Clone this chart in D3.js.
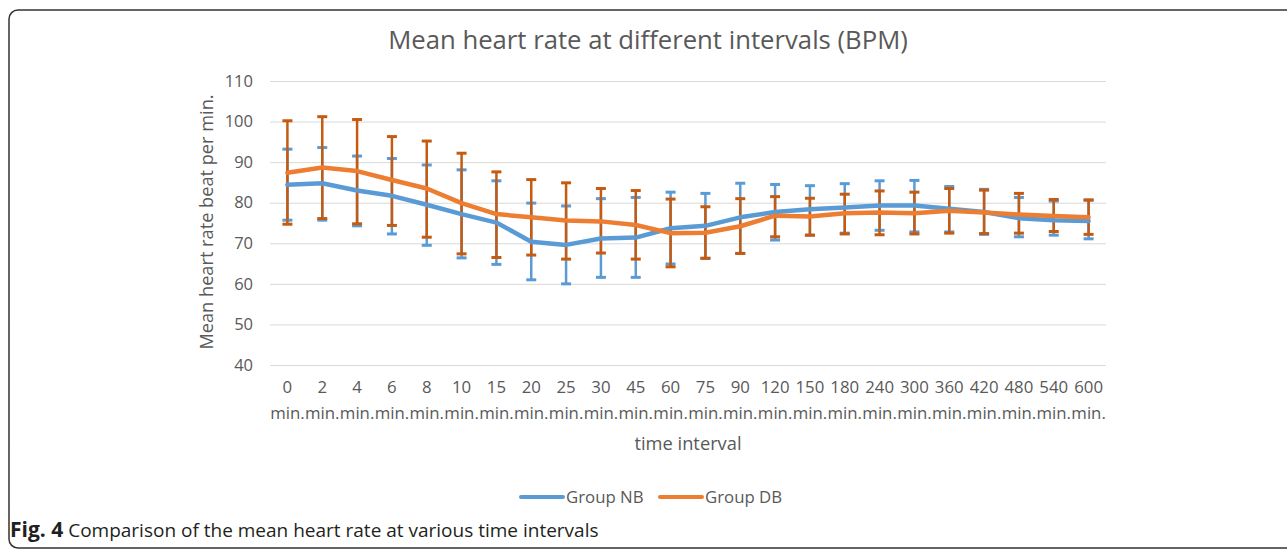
<!DOCTYPE html>
<html><head><meta charset="utf-8">
<script src="https://cdn.jsdelivr.net/npm/d3@7"></script>
<style>body{margin:0;background:#fff;} svg{display:block;font-family:"Open Sans",sans-serif;}</style>
</head><body>
<svg id="c" width="1287" height="550"></svg>
<script>
const categories = ["0","2","4","6","8","10","15","20","25","30","45","60","75","90","120","150","180","240","300","360","420","480","540","600"];
const nbMean = [84.4,84.8,83.0,81.7,79.5,77.2,75.1,70.4,69.6,71.2,71.4,73.7,74.3,76.4,77.7,78.4,78.8,79.3,79.3,78.5,77.7,76.2,75.7,75.5];
const nbHigh = [93.2,93.6,91.5,90.9,89.3,88.1,85.4,79.9,79.2,81.0,81.3,82.6,82.3,84.8,84.5,84.2,84.7,85.4,85.5,84.0,83.3,81.3,80.4,80.6];
const nbLow  = [75.7,75.7,74.3,72.3,69.5,66.4,64.8,61.0,60.0,61.6,61.6,64.9,66.3,67.5,70.8,72.0,72.5,73.2,72.8,72.8,72.2,71.6,72.0,71.1];
const dbMean = [87.4,88.7,87.8,85.6,83.5,79.9,77.2,76.4,75.6,75.4,74.5,72.5,72.6,74.2,76.8,76.6,77.4,77.6,77.4,78.0,77.6,77.1,76.7,76.4];
const dbHigh = [100.2,101.2,100.5,96.3,95.2,92.2,87.6,85.7,84.9,83.5,83.0,80.9,79.0,81.0,81.5,81.1,82.1,82.9,82.6,83.5,83.1,82.3,80.8,80.7];
const dbLow  = [74.7,76.1,74.8,74.4,71.5,67.4,66.5,67.1,66.1,67.6,66.1,64.2,66.3,67.5,71.6,72.0,72.3,72.1,72.3,72.5,72.4,72.5,72.9,72.2];
const yTicks = [40,50,60,70,80,90,100,110];
const seriesNames = ["Group NB","Group DB"];

const svg = d3.select("#c");
const gray = "#595959";
// frame
svg.append("rect").attr("x",9).attr("y",10).attr("width",1300).attr("height",538).attr("rx",9)
  .attr("fill","none").attr("stroke","#333").attr("stroke-width",1.5);

const x = d3.scaleBand().domain(categories).range([270,1106]);
const y = d3.scaleLinear().domain([40,110]).range([365,81]);
const cx = d => x(d) + x.bandwidth()/2;

// grid
svg.append("g").selectAll("line").data(yTicks).join("line")
  .attr("x1",270).attr("x2",1106).attr("y1",d=>y(d)+0.5).attr("y2",d=>y(d)+0.5)
  .attr("stroke","#d9d9d9").attr("stroke-width",1);

// y axis labels
const yAxis = d3.axisLeft(y).tickValues(yTicks).tickSize(0).tickPadding(0);
const ya = svg.append("g").attr("transform","translate(253,0)").call(yAxis);
ya.select(".domain").remove();
ya.selectAll("text").attr("fill",gray).style("font-size","16.5px").style("font-family","Open Sans");

// x axis labels
const xAxis = d3.axisBottom(x).tickSize(0).tickPadding(0);
const xa = svg.append("g").attr("transform","translate(0,365)").call(xAxis);
xa.select(".domain").remove();
xa.selectAll("text").attr("fill",gray).style("font-size","16.8px").style("font-family","Open Sans")
  .attr("y",0).attr("dy",null).text(null)
  .each(function(d){
    const t = d3.select(this);
    t.append("tspan").attr("x",0).attr("y",28).text(d);
    t.append("tspan").attr("x",0).attr("y",54).text("min.");
  });

// error bars
function errorBars(hi, lo, color, cap, sw, capw){
  const g = svg.append("g");
  categories.forEach((c,i)=>{
    const px = cx(c);
    g.append("line").attr("x1",px).attr("x2",px).attr("y1",y(hi[i])).attr("y2",y(lo[i]))
      .attr("stroke",color).attr("stroke-width",sw);
    [hi[i],lo[i]].forEach(v=>{
      g.append("line").attr("x1",px-cap/2).attr("x2",px+cap/2).attr("y1",y(v)).attr("y2",y(v))
        .attr("stroke",color).attr("stroke-width",capw);
    });
  });
}
errorBars(nbHigh, nbLow, "#5b9bd5", 10, 2.5, 3);
errorBars(dbHigh, dbLow, "#c55a11", 10, 2.5, 3);

// lines
const line = d3.line().x((d,i)=>cx(categories[i])).y(d=>y(d));
svg.append("path").datum(nbMean).attr("d",line).attr("fill","none").attr("stroke","#5b9bd5")
  .attr("stroke-width",4.5).attr("stroke-linejoin","round").attr("stroke-linecap","round");
svg.append("path").datum(dbMean).attr("d",line).attr("fill","none").attr("stroke","#ed7d31")
  .attr("stroke-width",4.5).attr("stroke-linejoin","round").attr("stroke-linecap","round");

// title
svg.append("text").attr("x",648).attr("y",49).attr("text-anchor","middle").attr("fill",gray)
  .style("font-size","25.7px").text("Mean heart rate at different intervals (BPM)");
// axis titles
svg.append("text").attr("x",688).attr("y",450).attr("text-anchor","middle").attr("fill",gray)
  .style("font-size","18.3px").text("time interval");
svg.append("text").attr("transform","translate(213,222) rotate(-90)").attr("text-anchor","middle").attr("fill",gray)
  .style("font-size","18.2px").text("Mean heart rate beat per min.");

// legend
const legend = [{name:seriesNames[0],color:"#5b9bd5",x:521},{name:seriesNames[1],color:"#ed7d31",x:660}];
legend.forEach(l=>{
  svg.append("line").attr("x1",l.x).attr("x2",l.x+42).attr("y1",497).attr("y2",497)
    .attr("stroke",l.color).attr("stroke-width",4).attr("stroke-linecap","round");
  svg.append("text").attr("x",l.x+45).attr("y",503).attr("fill",gray).style("font-size","16.8px").text(l.name);
});

// caption
const cap = svg.append("text").attr("x",10).attr("y",537).attr("fill","#231f20").style("font-size","19px");
cap.append("tspan").style("font-weight","bold").style("font-size","21px").text("Fig. 4");
cap.append("tspan").text(" Comparison of the mean heart rate at various time intervals");
</script>
</body></html>
